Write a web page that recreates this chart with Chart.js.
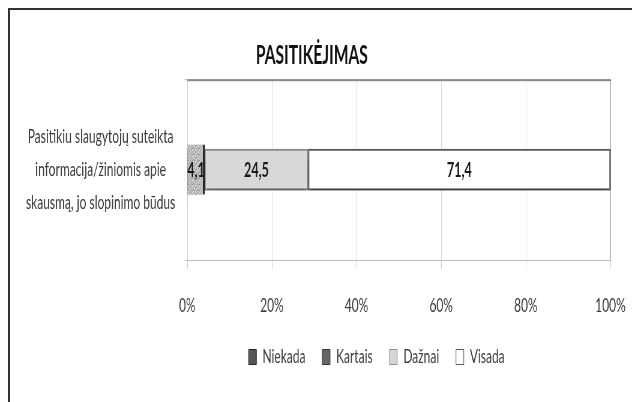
<!DOCTYPE html>
<html>
<head>
<meta charset="utf-8">
<script src="https://cdn.jsdelivr.net/npm/chart.js@4/dist/chart.umd.min.js"></script>
<style>
  html, body { margin: 0; padding: 0; background: #fff; }
  #wrap { position: relative; width: 632px; height: 402px; overflow: hidden; }
  #chart { position: absolute; left: 0; top: 0; }
  #frame { position: absolute; left: 8px; top: 8px; width: 700px; height: 500px;
           border-left: 2px solid #333; border-top: 2px solid #333; }
</style>
</head>
<body>
<div id="wrap">
  <!-- drawn wide, shown narrow: the whole chart is condensed horizontally -->
  <canvas id="chart" width="1053" height="402" style="width:632px;height:402px"></canvas>
  <div id="frame"></div>
</div>
<script>
const categories = [['Pasitikiu slaugytojų suteikta', 'informacija/žiniomis apie', 'skausmą, jo slopinimo būdus']];
const seriesNames = ['Niekada', 'Kartais', 'Dažnai', 'Visada'];
const niekada = [0];
const kartais = [4.1];
const daznai = [24.5];
const visada = [71.4];
const percentTicks = [0, 20, 40, 60, 80, 100];

const FONT = 'Lato, "Open Sans", sans-serif';

// mottled grey fill for the "Kartais" segment
function speckle() {
  const c = document.createElement('canvas');
  c.width = 6; c.height = 6;
  const g = c.getContext('2d');
  g.fillStyle = '#c0c0c0';
  g.fillRect(0, 0, 6, 6);
  g.fillStyle = '#8a8a8a';
  [[0,0],[3,1],[1,2],[4,3],[2,4],[5,5],[0,4]].forEach(p => g.fillRect(p[0], p[1], 1, 1));
  g.fillStyle = '#e6e6e6';
  [[2,0],[5,1],[0,2],[3,3],[1,5],[4,5]].forEach(p => g.fillRect(p[0], p[1], 1, 1));
  return g.createPattern(c, 'repeat');
}

const ctx = document.getElementById('chart').getContext('2d');
const legendFill = ['#555555', '#666666', '#d6d6d6', '#ffffff'];
const legendStroke = ['#222222', '#333333', '#8c8c8c', '#5a5a5a'];

// darker line along the top of the plot area
const plotFrame = {
  id: 'plotFrame',
  afterDraw(chart) {
    const { left, right, top } = chart.chartArea;
    const c = chart.ctx;
    c.save();
    c.fillStyle = '#8a8a8a';
    c.fillRect(left, top, right - left, 2);
    c.restore();
  }
};

const barShadow = {
  id: 'barShadow',
  beforeDatasetsDraw(chart) {
    const c = chart.ctx;
    c.save();
    c.shadowColor = 'rgba(0,0,0,0.4)';
    c.shadowBlur = 9;
    c.shadowOffsetY = 6;
  },
  afterDatasetsDraw(chart) {
    chart.ctx.restore();
  }
};

const segmentLabels = {
  id: 'segmentLabels',
  afterDatasetsDraw(chart) {
    const c = chart.ctx;
    c.save();
    c.font = 'bold 21px ' + FONT;
    c.fillStyle = '#1a1a1a';
    c.textAlign = 'center';
    c.textBaseline = 'middle';
    chart.data.datasets.forEach((ds, i) => {
      chart.getDatasetMeta(i).data.forEach((bar, j) => {
        const v = ds.data[j];
        if (!v) return;
        c.fillText(v.toFixed(1).replace('.', ','), (bar.x + bar.base) / 2, bar.y + 1);
      });
    });
    c.restore();
  }
};

// legend sits under the plot area rather than the full width
const legendShift = {
  id: 'legendShift',
  afterLayout(chart) {
    chart.legend.left += 108;
    chart.legend.right += 108;
  }
};

new Chart(ctx, {
  type: 'bar',
  data: {
    labels: categories,
    datasets: [
      { label: seriesNames[0], data: niekada, backgroundColor: '#555555', borderColor: '#222222',
        borderWidth: 0, barThickness: 41 },
      { label: seriesNames[1], data: kartais, backgroundColor: speckle(), borderColor: '#1e1e1e',
        borderWidth: { top: 0, left: 0, bottom: 0, right: 3 }, borderSkipped: false, barThickness: 50 },
      { label: seriesNames[2], data: daznai, backgroundColor: '#d8d8d8', borderColor: '#8c8c8c',
        borderWidth: 2, borderSkipped: false, barThickness: 41 },
      { label: seriesNames[3], data: visada, backgroundColor: '#ffffff', borderColor: '#5a5a5a',
        borderWidth: 2, borderSkipped: false, barThickness: 41 }
    ]
  },
  options: {
    indexAxis: 'y',
    responsive: false,
    animation: false,
    layout: { padding: { left: 22, right: 36, top: 10, bottom: 25 } },
    plugins: {
      tooltip: { enabled: false },
      title: {
        display: true,
        text: 'PASITIKĖJIMAS',
        color: '#111111',
        font: { family: FONT, size: 26, weight: 'bold' },
        padding: { top: 30, bottom: 8 }
      },
      legend: {
        position: 'bottom',
        labels: {
          color: '#404040',
          font: { family: FONT, size: 20 },
          boxWidth: 13,
          boxHeight: 15,
          padding: 28,
          generateLabels(chart) {
            const items = Chart.defaults.plugins.legend.labels.generateLabels(chart);
            items.forEach((it, i) => {
              it.fillStyle = legendFill[i];
              it.strokeStyle = legendStroke[i];
              it.lineWidth = 1;
            });
            return items;
          }
        }
      }
    },
    scales: {
      x: {
        stacked: true,
        min: 0,
        max: 100,
        afterBuildTicks(scale) {
          scale.ticks = percentTicks.map(v => ({ value: v }));
        },
        afterFit(scale) {
          scale.height = 59;
          scale.paddingLeft = 0;
          scale.paddingRight = 0;
        },
        ticks: {
          color: '#404040',
          font: { family: FONT, size: 20 },
          padding: 25,
          callback: v => v + '%'
        },
        grid: {
          color: c => (c.index === percentTicks.length - 1 ? '#8c8c8c' : '#d9d9d9'),
          tickColor: '#cfcfcf',
          tickLength: 9
        },
        border: { color: '#bfbfbf' }
      },
      y: {
        stacked: true,
        afterFit(scale) { scale.width = 290; },
        ticks: {
          color: '#3a3a3a',
          font: { family: FONT, size: 20, lineHeight: 1.65 },
          padding: 15,
          crossAlign: 'center'
        },
        grid: { color: '#bfbfbf', tickColor: '#cfcfcf', tickLength: 5 },
        border: { color: '#d0d0d0' }
      }
    }
  },
  plugins: [plotFrame, barShadow, segmentLabels, legendShift]
});
</script>
</body>
</html>
